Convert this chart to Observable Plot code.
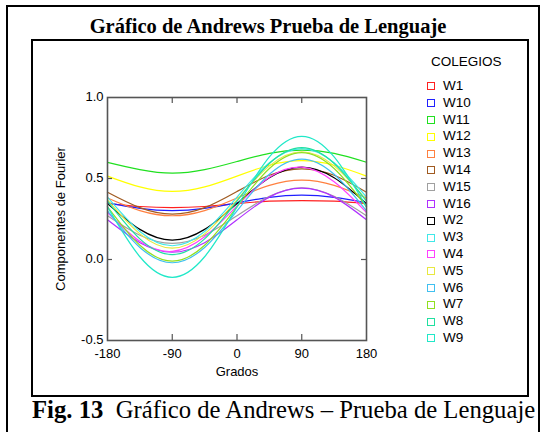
<!DOCTYPE html>
<html><head><meta charset="utf-8">
<script src="https://cdn.jsdelivr.net/npm/d3@7"></script>
<script src="https://cdn.jsdelivr.net/npm/@observablehq/plot@0.6"></script>
<style>
body{margin:0;background:#fff;}
#page{position:relative;width:547px;height:432px;overflow:hidden;background:#fff;}
.abs{position:absolute;}
#outer{left:6px;top:5px;width:530px;height:440px;border:2px solid #000;border-bottom:none;}
#inner{left:31px;top:39px;width:494px;height:354px;border:2px solid #000;}
#title{left:0;width:536px;top:15px;text-align:center;font:bold 20.5px "Liberation Serif","Times New Roman",serif;}
#caption{left:32px;top:396px;font:24.7px "Liberation Serif","Times New Roman",serif;white-space:nowrap;}
#legend{left:427px;top:53px;font:13.5px "Liberation Sans",Arial,sans-serif;color:#000;}
#legend .hd{margin-left:4px;height:18px;line-height:18px;margin-bottom:7px;}
#legend .it{height:16.8px;line-height:16.8px;display:flex;align-items:center;}
#legend .sw{width:6px;height:6px;border:1.5px solid;margin-right:8px;}
#chart{left:32px;top:40px;}
</style></head>
<body><div id="page">
<div id="outer" class="abs"></div>
<div id="title" class="abs">Gráfico de Andrews Prueba de Lenguaje</div>
<div id="inner" class="abs"></div>
<div id="chart" class="abs"></div>
<div id="legend" class="abs"></div>
<div id="caption" class="abs"><b>Fig. 13</b>&nbsp; Gráfico de Andrews – Prueba de Lenguaje</div>
</div>
<script>
// Angles (degrees) at which each curve was read
const angles = [-180, -135, -90, -45, 0, 45, 90, 135, 180];
const names = ["W1","W10","W11","W12","W13","W14","W15","W16","W2","W3","W4","W5","W6","W7","W8","W9"];
const colors = ["#ff2020","#2020ff","#20e020","#ffff00","#ff8040","#a05a20","#a0a0a0","#b030ff","#000000","#40e8e8","#ff40ff","#e8e840","#40c0f0","#90e020","#20e0a0","#20e8c8"];
const W1  = [0.345, 0.327, 0.320, 0.327, 0.345, 0.360, 0.364, 0.360, 0.345];
const W10 = [0.350, 0.316, 0.302, 0.316, 0.350, 0.384, 0.397, 0.384, 0.350];
const W11 = [0.600, 0.555, 0.533, 0.555, 0.605, 0.655, 0.675, 0.655, 0.600];
const W12 = [0.515, 0.448, 0.420, 0.448, 0.515, 0.582, 0.610, 0.582, 0.515];
const W13 = [0.380, 0.302, 0.270, 0.302, 0.380, 0.458, 0.490, 0.458, 0.380];
const W14 = [0.415, 0.320, 0.280, 0.320, 0.420, 0.520, 0.560, 0.520, 0.415];
const W15 = [0.270, 0.150, 0.100, 0.150, 0.270, 0.390, 0.443, 0.390, 0.270];
const W16 = [0.245, 0.104, 0.045, 0.104, 0.245, 0.385, 0.440, 0.385, 0.245];
const W2  = [0.345, 0.186, 0.120, 0.186, 0.345, 0.504, 0.570, 0.504, 0.345];
const W3  = [0.385, 0.173, 0.085, 0.173, 0.385, 0.597, 0.685, 0.597, 0.385];
const W4  = [0.290, 0.112, 0.050, 0.140, 0.330, 0.508, 0.570, 0.480, 0.290];
const W5  = [0.368, 0.158, 0.070, 0.158, 0.368, 0.578, 0.665, 0.578, 0.368];
const W6  = [0.300, 0.074, -0.020, 0.074, 0.300, 0.526, 0.620, 0.526, 0.300];
const W7  = [0.325, 0.088, -0.010, 0.088, 0.325, 0.562, 0.660, 0.562, 0.325];
const W8  = [0.360, 0.127, 0.030, 0.127, 0.360, 0.593, 0.690, 0.593, 0.360];
const W9  = [0.325, 0.017, -0.110, 0.017, 0.325, 0.633, 0.760, 0.633, 0.325];
const series = [W1,W10,W11,W12,W13,W14,W15,W16,W2,W3,W4,W5,W6,W7,W8,W9];
const xTicks = [-180, -90, 0, 90, 180];
const yTicks = [-0.5, 0.0, 0.5, 1.0];
const innerX = [-90, 0, 90];
const innerY = [0.0, 0.5];

const rows = names.flatMap((n, i) => angles.map((t, j) => ({name: n, t, v: series[i][j]})));

const font = '"Liberation Sans", Arial, sans-serif';
const chart = Plot.plot({
  width: 400, height: 355,
  marginLeft: 75, marginTop: 57, marginRight: 66, marginBottom: 55,
  style: {fontFamily: font, fontSize: "13px", color: "#000", background: "transparent"},
  x: {domain: [-180, 180]},
  y: {domain: [-0.5, 1.0]},
  color: {domain: names, range: colors},
  marks: [
    Plot.line(rows, {x: "t", y: "v", z: "name", stroke: "name", curve: "natural", strokeWidth: 1.2}),
    Plot.frame({stroke: "#555", strokeWidth: 1.6}),
    Plot.ruleX(innerX, {x: d => d, insetTop: 237, stroke: "#555", strokeWidth: 1.2}),
    Plot.ruleX(innerX, {x: d => d, insetBottom: 237, stroke: "#555", strokeWidth: 1.2}),
    Plot.ruleY(innerY, {y: d => d, insetRight: 254, stroke: "#555", strokeWidth: 1.2}),
    Plot.ruleY(innerY, {y: d => d, insetLeft: 254, stroke: "#555", strokeWidth: 1.2}),
    Plot.axisX(xTicks, {tickSize: 0, tickPadding: 8, tickFormat: d => String(d), fontSize: 13,
      label: "Grados", labelAnchor: "center", labelOffset: 35, labelArrow: "none"}),
    Plot.axisY(yTicks, {tickSize: 0, tickPadding: 4, dy: -1, tickFormat: d => d.toFixed(1), fontSize: 13,
      label: "Componentes de Fourier", labelAnchor: "center", labelOffset: 52, labelArrow: "none"})
  ]
});
document.getElementById("chart").appendChild(chart);

const lg = document.getElementById("legend");
lg.innerHTML = '<div class="hd">COLEGIOS</div>' + names.map((n, i) =>
  `<div class="it"><span class="sw" style="border-color:${colors[i]}"></span><span>${n}</span></div>`).join("");
</script>
</body></html>
